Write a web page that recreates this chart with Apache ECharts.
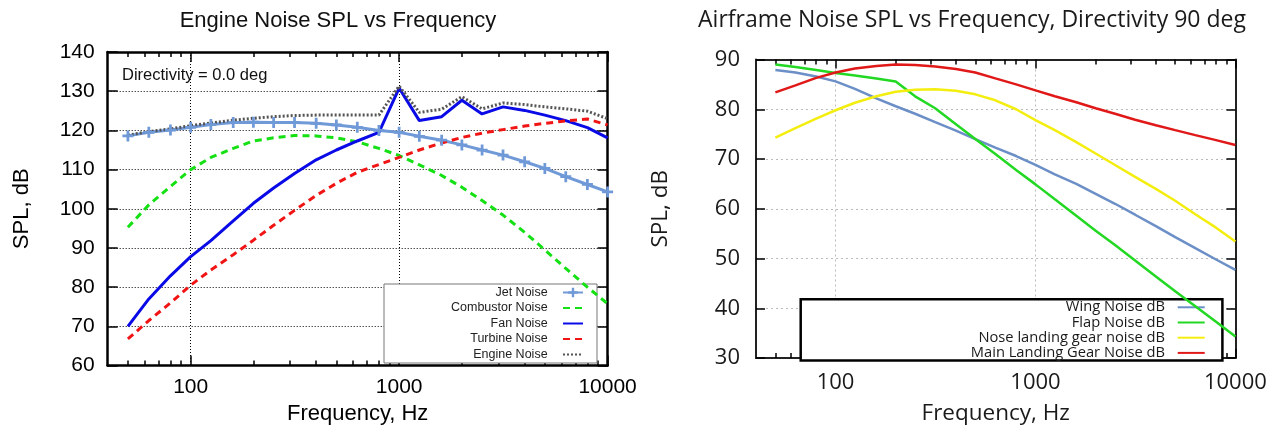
<!DOCTYPE html>
<html>
<head>
<meta charset="utf-8">
<script src="https://cdn.jsdelivr.net/npm/echarts@6/dist/echarts.min.js"></script>
<style>
  html, body { margin: 0; padding: 0; background: #fff; }
  #chart { width: 1284px; height: 430px; }
</style>
</head>
<body>
<div id="chart"></div>
<script>
// One-third octave band centre frequencies, Hz
const freq = [50, 63, 80, 100, 125, 160, 200, 250, 315, 400, 500, 630, 800,
              1000, 1250, 1600, 2000, 2500, 3150, 4000, 5000, 6300, 8000, 10000];

// Engine noise components, SPL dB (directivity 0 deg)
const jetNoise       = [118.6, 119.5, 120.1, 120.8, 121.5, 122.0, 122.1, 122.0, 122.0, 121.8, 121.4, 120.8, 120.0,
                        119.5, 118.5, 117.5, 116.3, 115.0, 113.7, 112.0, 110.3, 108.2, 106.2, 104.3];
const combustorNoise = [95.3, 101.0, 105.7, 110.0, 113.1, 115.4, 117.3, 118.1, 118.7, 118.6, 118.1, 117.1, 115.4,
                        113.6, 111.2, 108.5, 105.5, 102.1, 98.4, 94.0, 89.5, 84.8, 80.0, 75.8];
const fanNoise       = [70.0, 77.0, 82.9, 87.8, 91.9, 96.9, 101.4, 105.3, 109.0, 112.5, 115.0, 117.3, 119.5,
                        130.8, 122.5, 123.5, 127.7, 124.2, 126.0, 125.1, 123.9, 122.5, 120.7, 118.1];
const turbineNoise   = [66.8, 71.5, 76.0, 80.5, 84.4, 88.3, 92.0, 95.8, 99.6, 103.4, 106.5, 109.3, 111.3,
                        113.1, 115.0, 116.8, 118.2, 119.3, 120.2, 121.1, 121.8, 122.4, 122.9, 121.4];
const engineNoise    = [118.8, 119.7, 120.4, 121.2, 121.9, 122.6, 123.1, 123.5, 123.8, 123.9, 123.9, 123.9, 123.9,
                        131.3, 124.6, 125.4, 128.6, 125.5, 127.0, 126.6, 126.0, 125.5, 124.9, 123.0];

// Airframe noise components, SPL dB (directivity 90 deg)
const wingNoise      = [87.9, 87.4, 86.6, 85.6, 84.1, 82.2, 80.6, 79.1, 77.4, 75.7, 74.0, 72.3, 70.6,
                        68.8, 66.9, 65.0, 63.0, 61.0, 58.8, 56.5, 54.3, 52.1, 49.8, 47.7];
const flapNoise      = [89.0, 88.5, 87.9, 87.3, 86.8, 86.2, 85.6, 82.6, 80.2, 77.0, 74.0, 71.0, 67.8,
                        64.9, 61.9, 58.6, 55.6, 52.7, 49.6, 46.4, 43.4, 40.4, 37.3, 34.3];
const noseGearNoise  = [74.3, 76.2, 78.1, 79.8, 81.3, 82.6, 83.5, 83.9, 84.0, 83.7, 83.0, 81.8, 80.0,
                        77.8, 75.8, 73.4, 71.1, 68.8, 66.4, 64.0, 61.6, 58.9, 56.2, 53.4];
const mainGearNoise  = [83.4, 84.8, 86.3, 87.4, 88.2, 88.7, 89.0, 88.9, 88.6, 88.1, 87.4, 86.2, 85.0,
                        83.8, 82.6, 81.4, 80.2, 79.1, 77.9, 76.8, 75.8, 74.8, 73.8, 72.8];

// Axis ticks
const freqMajorTicks = [100, 1000, 10000];
const freqMinorTicks = [50, 60, 70, 80, 90, 200, 300, 400, 500, 600, 700, 800, 900,
                        2000, 3000, 4000, 5000, 6000, 7000, 8000, 9000];
const engineSplRange = [60, 140];
const airframeSplRange = [30, 90];
const splStep = 10;

const SANS = 'Liberation Sans';
const HUMANIST = 'Open Sans';

const pairs = arr => freq.map((f, i) => [f, arr[i]]);
const plainNumber = v => String(v);

// Log frequency axis; several of these are stacked to get gnuplot-style inner ticks
function freqAxis(grid, pos, ticks, len, extra) {
  return Object.assign({
    type: 'log', logBase: 10, gridIndex: grid, position: pos, min: 40, max: 10000,
    axisLine: { show: false },
    axisTick: { show: true, inside: true, length: len, customValues: ticks,
                lineStyle: { color: '#000', width: 1.5 } },
    axisLabel: { show: false },
    splitLine: { show: false },
    minorTick: { show: false },
    minorSplitLine: { show: false }
  }, extra || {});
}

function splAxis(grid, pos, range, extra) {
  return Object.assign({
    type: 'value', gridIndex: grid, position: pos,
    min: range[0], max: range[1], interval: splStep,
    axisLine: { show: true, onZero: false, lineStyle: { color: '#000', width: 2.5 } },
    axisTick: { show: true, inside: true, length: 10, lineStyle: { color: '#000', width: 1.5 } },
    axisLabel: { show: false },
    splitLine: { show: false }
  }, extra || {});
}

const engineBorder = { show: true, onZero: false, lineStyle: { color: '#000', width: 2.5 } };
const airBorder = { show: true, onZero: false, lineStyle: { color: '#222', width: 2 } };

// legend entries without a point marker
const lineOnly = name => ({ name, itemStyle: { opacity: 0 } });

const option = {
  animation: false,
  backgroundColor: '#fff',
  title: [
    { text: 'Engine Noise SPL vs Frequency', left: 338, top: 10, textAlign: 'center', padding: 0,
      textStyle: { fontFamily: SANS, fontSize: 22, fontWeight: 'normal', color: '#111' } },
    { text: 'Airframe Noise SPL vs Frequency, Directivity 90 deg', left: 972, top: 9, textAlign: 'center', padding: 0,
      textStyle: { fontFamily: HUMANIST, fontSize: 23, fontWeight: 'normal', color: '#1a1a1a' } }
  ],
  grid: [
    { left: 107.7, top: 52, width: 499.9, height: 313.6, outerBoundsMode: 'none', containLabel: false },
    { left: 756, top: 59.5, width: 479.4, height: 298.5, outerBoundsMode: 'none', containLabel: false }
  ],
  xAxis: [
    // engine chart
    freqAxis(0, 'bottom', freqMajorTicks, 10, {
      axisLine: engineBorder,
      axisLabel: { show: true, customValues: freqMajorTicks, formatter: plainNumber, margin: 11,
                   fontFamily: SANS, fontSize: 21, color: '#000' },
      splitLine: { show: true, lineStyle: { color: '#000', width: 1, type: [1, 2] } },
      name: 'Frequency, Hz', nameLocation: 'middle', nameGap: 37,
      nameTextStyle: { fontFamily: SANS, fontSize: 22, color: '#000' }
    }),
    freqAxis(0, 'bottom', freqMinorTicks, 5),
    freqAxis(0, 'top', freqMajorTicks, 10, { axisLine: engineBorder }),
    freqAxis(0, 'top', freqMinorTicks, 5),
    // airframe chart
    freqAxis(1, 'bottom', freqMajorTicks, 9, {
      axisLine: airBorder,
      axisLabel: { show: true, customValues: freqMajorTicks, formatter: plainNumber, margin: 14,
                   fontFamily: HUMANIST, fontSize: 22, color: '#1a1a1a' },
      splitLine: { show: true, lineStyle: { color: '#bbb', width: 1, type: [2, 3] } },
      name: 'Frequency, Hz', nameLocation: 'middle', nameGap: 44,
      nameTextStyle: { fontFamily: HUMANIST, fontSize: 22.5, color: '#1a1a1a' }
    }),
    freqAxis(1, 'bottom', freqMinorTicks, 5),
    freqAxis(1, 'top', freqMajorTicks, 9, { axisLine: airBorder }),
    freqAxis(1, 'top', freqMinorTicks, 5)
  ],
  yAxis: [
    splAxis(0, 'left', engineSplRange, {
      axisLabel: { show: true, margin: 13, fontFamily: SANS, fontSize: 21, color: '#000' },
      splitLine: { show: true, lineStyle: { color: '#000', width: 1, type: [1, 2] } },
      name: 'SPL, dB', nameLocation: 'middle', nameGap: 75,
      nameTextStyle: { fontFamily: SANS, fontSize: 22, color: '#000' }
    }),
    splAxis(0, 'right', engineSplRange),
    splAxis(1, 'left', airframeSplRange, {
      axisLine: airBorder,
      axisTick: { show: true, inside: true, length: 9, lineStyle: { color: '#000', width: 1.5 } },
      axisLabel: { show: true, margin: 16, fontFamily: HUMANIST, fontSize: 22, color: '#1a1a1a' },
      splitLine: { show: true, lineStyle: { color: '#bbb', width: 1, type: [2, 3] } },
      name: 'SPL, dB', nameLocation: 'middle', nameGap: 84,
      nameTextStyle: { fontFamily: HUMANIST, fontSize: 22.5, color: '#1a1a1a' }
    }),
    splAxis(1, 'right', airframeSplRange, {
      axisLine: airBorder,
      axisTick: { show: true, inside: true, length: 9, lineStyle: { color: '#000', width: 1.5 } }
    })
  ],
  legend: [
    {
      data: ['Jet Noise', lineOnly('Combustor Noise'), lineOnly('Fan Noise'),
             lineOnly('Turbine Noise'), lineOnly('Engine Noise')],
      left: 384, top: 284, orient: 'vertical', align: 'right', z: 1,
      itemWidth: 20, itemHeight: 12, itemGap: 2.5, padding: [2, 13, 2, 4],
      backgroundColor: '#fff', borderColor: '#777', borderWidth: 1, borderRadius: 0,
      selectedMode: false,
      formatter: n => '{t|' + n + '   }',
      textStyle: { rich: { t: { width: 170, align: 'right', fontFamily: SANS, fontSize: 12.5,
                                lineHeight: 13, color: '#222' } } }
    },
    {
      data: [lineOnly('Wing Noise dB'), lineOnly('Flap Noise dB'),
             lineOnly('Nose landing gear noise dB'), lineOnly('Main Landing Gear Noise dB')],
      left: 800.7, top: 299.3, orient: 'vertical', align: 'right', z: 1,
      itemWidth: 27, itemHeight: 10, itemGap: 0.2, padding: [0.5, 16.7, 0, 4],
      backgroundColor: '#fff', borderColor: '#000', borderWidth: 2.5, borderRadius: 0,
      selectedMode: false,
      formatter: n => '{t|' + n + '  }',
      textStyle: { rich: { t: { width: 368, align: 'right', fontFamily: HUMANIST, fontSize: 14.7,
                                lineHeight: 12, color: '#1a1a1a' } } }
    }
  ],
  graphic: [
    { type: 'text', left: 122, top: 67, z: 10,
      style: { text: 'Directivity = 0.0 deg', font: '16.5px "Liberation Sans"', fill: '#111' } }
  ],
  series: [
    { name: 'Jet Noise', type: 'line', xAxisIndex: 0, yAxisIndex: 0, data: pairs(jetNoise),
      symbol: 'path://M3,0H5V3H8V5H5V8H3V5H0V3H3Z', symbolSize: 11, showSymbol: true,
      itemStyle: { color: '#7099d8' }, lineStyle: { color: '#7099d8', width: 3 } },
    { name: 'Combustor Noise', type: 'line', xAxisIndex: 0, yAxisIndex: 0, data: pairs(combustorNoise),
      symbol: 'none', itemStyle: { color: '#14e014' },
      lineStyle: { color: '#14e014', width: 3, type: [7, 5] } },
    { name: 'Fan Noise', type: 'line', xAxisIndex: 0, yAxisIndex: 0, data: pairs(fanNoise),
      symbol: 'none', itemStyle: { color: '#0a0ae6' }, lineStyle: { color: '#0a0ae6', width: 3 } },
    { name: 'Turbine Noise', type: 'line', xAxisIndex: 0, yAxisIndex: 0, data: pairs(turbineNoise),
      symbol: 'none', itemStyle: { color: '#f01414' },
      lineStyle: { color: '#f01414', width: 3, type: [7, 5] } },
    { name: 'Engine Noise', type: 'line', xAxisIndex: 0, yAxisIndex: 0, data: pairs(engineNoise),
      symbol: 'none', itemStyle: { color: '#555' },
      lineStyle: { color: '#555', width: 3, type: [2, 2] } },

    { name: 'Wing Noise dB', type: 'line', xAxisIndex: 4, yAxisIndex: 2, data: pairs(wingNoise),
      symbol: 'none', itemStyle: { color: '#6b8fc6' }, lineStyle: { color: '#6b8fc6', width: 2.5 } },
    { name: 'Flap Noise dB', type: 'line', xAxisIndex: 4, yAxisIndex: 2, data: pairs(flapNoise),
      symbol: 'none', itemStyle: { color: '#22d822' }, lineStyle: { color: '#22d822', width: 2.5 } },
    { name: 'Nose landing gear noise dB', type: 'line', xAxisIndex: 4, yAxisIndex: 2, data: pairs(noseGearNoise),
      symbol: 'none', itemStyle: { color: '#f4ee10' }, lineStyle: { color: '#f4ee10', width: 2.5 } },
    { name: 'Main Landing Gear Noise dB', type: 'line', xAxisIndex: 4, yAxisIndex: 2, data: pairs(mainGearNoise),
      symbol: 'none', itemStyle: { color: '#e01818' }, lineStyle: { color: '#e01818', width: 2.5 } }
  ]
};

const chart = echarts.init(document.getElementById('chart'), null, { renderer: 'canvas' });
chart.setOption(option);
</script>
</body>
</html>
